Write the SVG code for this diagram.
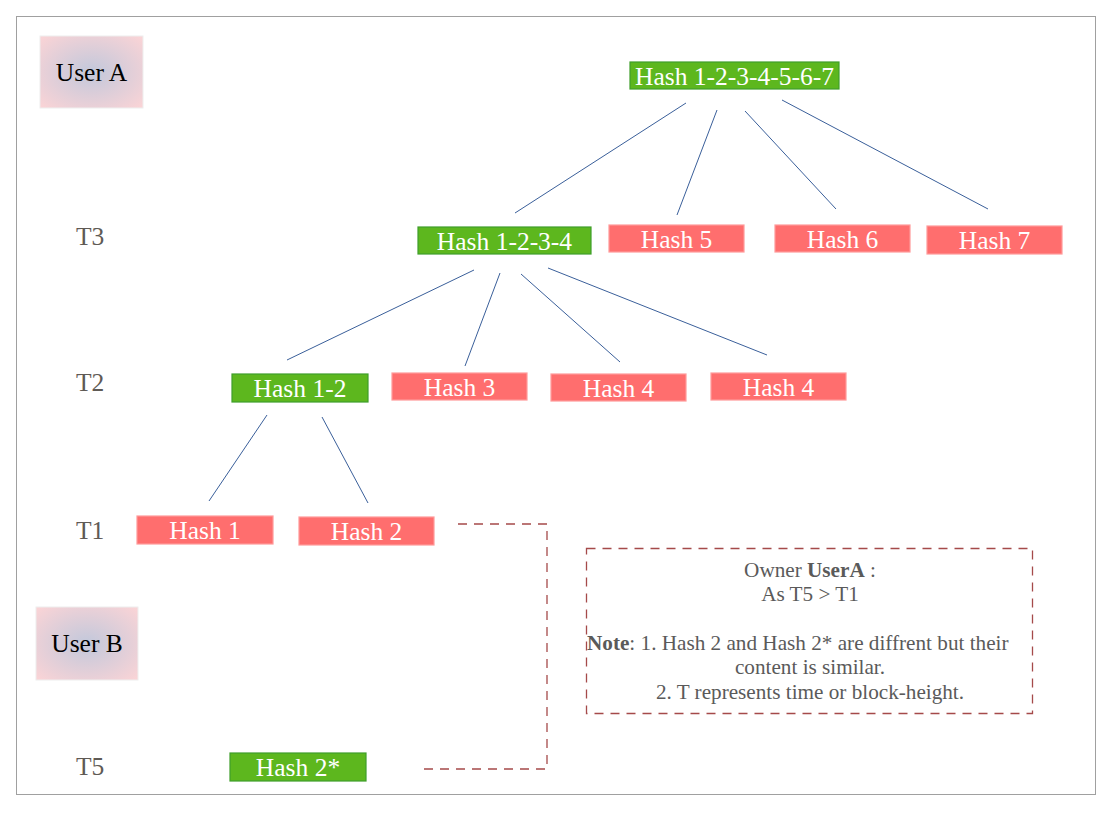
<svg xmlns="http://www.w3.org/2000/svg" width="1116" height="820" viewBox="0 0 1116 820">
<defs>
<radialGradient id="ug" cx="50%" cy="50%" r="70%">
<stop offset="0" stop-color="#c2c8db"/>
<stop offset="1" stop-color="#fbd4d6"/>
</radialGradient>
<style>
.g rect{fill:#5db71e;stroke:#3f9e2a;stroke-width:1.2;}
.r rect{fill:#ff6e6e;stroke:#ff9a9a;stroke-width:1.2;}
.h{font-family:"Liberation Serif",serif;font-size:25.5px;fill:#ffffff;text-anchor:middle;}
.lbl{font-family:"Liberation Serif",serif;font-size:25.5px;fill:#5f5a55;}
.u rect{fill:url(#ug);stroke:#eeeeee;}
.ut{font-family:"Liberation Serif",serif;font-size:25.5px;fill:#000;text-anchor:middle;}
.ln{stroke:#3a5f9a;stroke-width:1;fill:none;}
.dash{stroke:#a54a4a;stroke-width:1.3;fill:none;stroke-dasharray:9 7;}
.nt{font-family:"Liberation Serif",serif;font-size:21.2px;fill:#5a5a5a;text-anchor:middle;}
.ns{font-family:"Liberation Serif",serif;font-size:21.2px;fill:#5a5a5a;text-anchor:start;}
</style>
</defs>
<rect x="0" y="0" width="1116" height="820" fill="#ffffff"/>
<rect x="16.5" y="16.5" width="1079" height="778" fill="none" stroke="#a0a0a0" stroke-width="1"/>

<g id="userA" class="u"><rect x="40" y="36" width="103" height="72"/><text class="ut" x="91.5" y="81">User A</text></g>
<g id="userB" class="u"><rect x="36" y="607" width="102" height="73"/><text class="ut" x="87" y="652">User B</text></g>

<g id="labelT3"><text class="lbl" x="76" y="245">T3</text></g>
<g id="labelT2"><text class="lbl" x="76" y="391">T2</text></g>
<g id="labelT1"><text class="lbl" x="76" y="539">T1</text></g>
<g id="labelT5"><text class="lbl" x="76" y="775">T5</text></g>

<g id="connectors">
<line class="ln" x1="686" y1="103" x2="515" y2="213"/>
<line class="ln" x1="717" y1="110" x2="677" y2="215"/>
<line class="ln" x1="745" y1="111" x2="836" y2="209"/>
<line class="ln" x1="782" y1="100" x2="988" y2="209"/>
<line class="ln" x1="474" y1="270" x2="287" y2="360"/>
<line class="ln" x1="500" y1="273" x2="465" y2="366"/>
<line class="ln" x1="521" y1="274" x2="620" y2="362"/>
<line class="ln" x1="548" y1="268" x2="767" y2="355"/>
<line class="ln" x1="267" y1="415" x2="209" y2="501"/>
<line class="ln" x1="322" y1="417" x2="368" y2="503"/>
<polyline class="dash" points="458,524 547,524 547,769 423,769"/>
</g>

<g id="h1234567" class="g"><rect x="630" y="62" width="209" height="27"/><text class="h" x="734.5" y="84.5">Hash 1-2-3-4-5-6-7</text></g>
<g id="h1234" class="g"><rect x="418" y="227" width="173" height="27"/><text class="h" x="504.5" y="249.5">Hash 1-2-3-4</text></g>
<g id="h5" class="r"><rect x="609" y="225" width="135" height="27"/><text class="h" x="676.5" y="247.5">Hash 5</text></g>
<g id="h6" class="r"><rect x="775" y="225" width="135" height="27"/><text class="h" x="842.5" y="247.5">Hash 6</text></g>
<g id="h7" class="r"><rect x="927" y="226" width="135" height="28"/><text class="h" x="994.5" y="249">Hash 7</text></g>
<g id="h12" class="g"><rect x="232" y="374" width="136" height="28"/><text class="h" x="300" y="397">Hash 1-2</text></g>
<g id="h3" class="r"><rect x="392" y="373" width="135" height="27"/><text class="h" x="459.5" y="395.5">Hash 3</text></g>
<g id="h4a" class="r"><rect x="551" y="374" width="135" height="27"/><text class="h" x="618.5" y="396.5">Hash 4</text></g>
<g id="h4b" class="r"><rect x="711" y="373" width="135" height="27"/><text class="h" x="778.5" y="395.5">Hash 4</text></g>
<g id="h1" class="r"><rect x="137" y="516" width="136" height="28"/><text class="h" x="205" y="539">Hash 1</text></g>
<g id="h2" class="r"><rect x="299" y="517" width="135" height="28"/><text class="h" x="366.5" y="540">Hash 2</text></g>
<g id="h2s" class="g"><rect x="230" y="753" width="136" height="28"/><text class="h" x="298" y="776">Hash 2*</text></g>

<g id="note">
<rect x="586.5" y="548.5" width="446" height="165" class="dash"/>
<text class="nt" x="810" y="577">Owner <tspan font-weight="bold">UserA</tspan> :</text>
<text class="nt" x="810" y="601">As T5 &gt; T1</text>
<text class="ns" x="587" y="650"><tspan font-weight="bold">Note</tspan>: 1. Hash 2 and Hash 2* are diffrent but their</text>
<text class="nt" x="810" y="674">content is similar.</text>
<text class="nt" x="810" y="699">2. T represents time or block-height.</text>
</g>
</svg>
